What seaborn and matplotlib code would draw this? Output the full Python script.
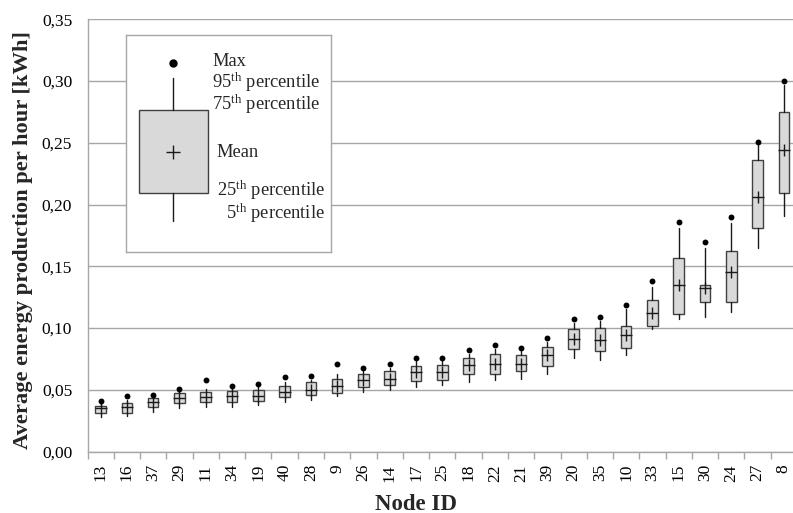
import numpy as np
import pandas as pd
import matplotlib
matplotlib.use("Agg")
import matplotlib.pyplot as plt
from matplotlib.patches import Rectangle
from matplotlib.ticker import FuncFormatter, FixedLocator
import seaborn as sns

# Hourly energy production statistics per node (kWh), sorted by mean
node_ids = ["13", "16", "37", "29", "11", "34", "19", "40", "28", "9", "26", "14", "17", "25",
            "18", "22", "21", "39", "20", "35", "10", "33", "15", "30", "24", "27", "8"]
max_val = [0.041, 0.045, 0.046, 0.051, 0.058, 0.053, 0.055, 0.060, 0.061, 0.071, 0.068, 0.071, 0.076, 0.076,
           0.082, 0.086, 0.084, 0.092, 0.107, 0.109, 0.119, 0.138, 0.186, 0.170, 0.190, 0.251, 0.300]
p95 = [0.039, 0.042, 0.045, 0.049, 0.051, 0.051, 0.053, 0.056, 0.058, 0.063, 0.065, 0.068, 0.073, 0.073,
       0.079, 0.083, 0.081, 0.089, 0.104, 0.106, 0.115, 0.133, 0.181, 0.165, 0.185, 0.248, 0.297]
p75 = [0.037, 0.039, 0.043, 0.047, 0.048, 0.049, 0.050, 0.053, 0.056, 0.059, 0.063, 0.065, 0.069, 0.070,
       0.076, 0.079, 0.078, 0.085, 0.099, 0.100, 0.102, 0.123, 0.157, 0.135, 0.162, 0.236, 0.275]
mean_val = [0.035, 0.036, 0.040, 0.043, 0.044, 0.045, 0.045, 0.048, 0.050, 0.053, 0.058, 0.059, 0.064, 0.064,
            0.070, 0.071, 0.071, 0.078, 0.091, 0.090, 0.094, 0.112, 0.135, 0.132, 0.145, 0.206, 0.244]
p25 = [0.031, 0.031, 0.036, 0.039, 0.040, 0.040, 0.041, 0.044, 0.046, 0.047, 0.052, 0.054, 0.057, 0.058,
       0.063, 0.063, 0.065, 0.069, 0.083, 0.081, 0.084, 0.102, 0.111, 0.121, 0.121, 0.181, 0.209]
p5 = [0.028, 0.029, 0.032, 0.035, 0.036, 0.036, 0.038, 0.040, 0.042, 0.045, 0.048, 0.050, 0.052, 0.054,
      0.056, 0.058, 0.059, 0.063, 0.076, 0.074, 0.078, 0.099, 0.107, 0.109, 0.113, 0.165, 0.191]
y_ticks = [0.00, 0.05, 0.10, 0.15, 0.20, 0.25, 0.30, 0.35]

sns.set_theme(style="white")
plt.rcParams["font.family"] = ["Liberation Serif", "DejaVu Serif"]
plt.rcParams["mathtext.fontset"] = "custom"
plt.rcParams["mathtext.rm"] = "Liberation Serif"
plt.rcParams["mathtext.it"] = "Liberation Serif:italic"
plt.rcParams["mathtext.bf"] = "Liberation Serif:bold"

df = pd.DataFrame({"node": node_ids, "max": max_val, "p95": p95, "p75": p75,
                   "mean": mean_val, "p25": p25, "p5": p5})
df["pos"] = np.arange(len(df))
n = len(df)

GRID = "#A6A6A6"
BOX_FILL = "#D9D9D9"
BOX_EDGE = "#404040"
INK = "#1a1a1a"

W, H = 793, 513
fig = plt.figure(figsize=(W / 100, H / 100), dpi=100)
ax = fig.add_axes([87.5 / W, 1 - 451.5 / H, (797 - 87.5) / W, (451.5 - 19.3) / H])

# Boxes: 25th-75th percentile, whiskers 5th-95th percentile
stats = [dict(label=r.node, whislo=r.p5, q1=r.p25, med=r.mean, q3=r.p75, whishi=r.p95, fliers=[])
         for r in df.itertuples()]
ax.bxp(stats, positions=df["pos"].tolist(), widths=0.4, patch_artist=True,
       showcaps=False, showfliers=False, manage_ticks=False,
       boxprops=dict(facecolor=BOX_FILL, edgecolor=BOX_EDGE, linewidth=1),
       whiskerprops=dict(color=INK, linewidth=1),
       medianprops=dict(linewidth=0))

# Mean (+) and maximum (dot)
sns.scatterplot(data=df, x="pos", y="mean", marker="+", s=70, color=INK,
                linewidth=1, ax=ax, zorder=4, legend=False)
sns.scatterplot(data=df, x="pos", y="max", marker="o", s=18, color="black",
                edgecolor="black", linewidth=0, ax=ax, zorder=4, legend=False)

ax.set_xlim(-0.5, n - 0.5)
ax.set_ylim(0, 0.35)
ax.set_yticks(y_ticks)
ax.yaxis.set_major_formatter(FuncFormatter(lambda v, _: f"{v:.2f}".replace(".", ",")))
ax.set_xticks(df["pos"])
ax.set_xticklabels(df["node"], rotation=90)
ax.xaxis.set_minor_locator(FixedLocator(np.arange(n + 1) - 0.5))
ax.tick_params(axis="x", which="major", length=0, pad=9, labelsize=12.5, colors="black")
ax.tick_params(axis="x", which="minor", length=5, width=1, color=GRID, direction="out", bottom=True)
ax.tick_params(axis="y", length=0, pad=11, labelsize=12.5, colors="black")
ax.set_xlabel("")
ax.set_ylabel("")
ax.set_axisbelow(True)
ax.yaxis.grid(True, color=GRID, linewidth=1)
ax.xaxis.grid(False)
for side in ("top", "right"):
    ax.spines[side].set_visible(False)
for side in ("left", "bottom"):
    ax.spines[side].set_color(GRID)
    ax.spines[side].set_linewidth(1)

fig.text(23.5 / W, 1 - 240 / H, "Average energy production per hour [kWh]", rotation=90,
         ha="center", va="center", fontsize=16.2, fontweight="bold")
fig.text(416 / W, 1 - 504 / H, "Node ID", ha="center", va="center",
         fontsize=16.5, fontweight="bold")

# Key explaining the box symbol
lg = fig.add_axes([125.7 / W, 1 - 252.3 / H, 205 / W, 217.3 / H])
lg.set_xlim(0, 205)
lg.set_ylim(217.3, 0)
lg.set_xticks([])
lg.set_yticks([])
lg.set_facecolor("white")
for s in lg.spines.values():
    s.set_color(GRID)
    s.set_linewidth(1)
lg.add_patch(Rectangle((13.3, 75.3), 69.3, 83, facecolor=BOX_FILL, edgecolor=BOX_EDGE, linewidth=1))
lg.plot([47.6, 47.6], [42.7, 75.3], color=INK, linewidth=1)
lg.plot([47.6, 47.6], [158.3, 186], color=INK, linewidth=1)
lg.plot(47.6, 28.3, "o", ms=5, color="black")
lg.plot(47.6, 116.7, "+", ms=10, mew=1, color=INK)
key_fs = 13.3
lg.text(86.6, 31, "Max", fontsize=key_fs, va="baseline")
lg.text(86.6, 53, r"95$^{\mathrm{th}}$ percentile", fontsize=key_fs, va="baseline")
lg.text(86.6, 75, r"75$^{\mathrm{th}}$ percentile", fontsize=key_fs, va="baseline")
lg.text(90.3, 122, "Mean", fontsize=key_fs, va="baseline")
lg.text(91, 161.5, r"25$^{\mathrm{th}}$ percentile", fontsize=key_fs, va="baseline")
lg.text(100.3, 184, r"5$^{\mathrm{th}}$ percentile", fontsize=key_fs, va="baseline")

fig.savefig("out.png", dpi=100)
